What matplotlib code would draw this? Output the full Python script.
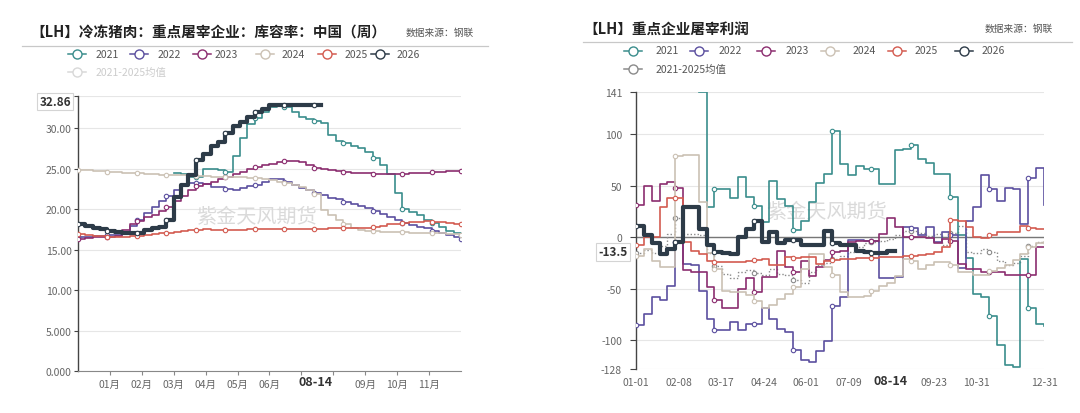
import numpy as np
import matplotlib
matplotlib.use('Agg')
import matplotlib.pyplot as plt
from matplotlib.lines import Line2D

plt.rcParams['font.family'] = ['Noto Sans CJK SC', 'DejaVu Sans']
plt.rcParams['axes.unicode_minus'] = False

nan = np.nan

# Legend entries and colours (ECharts-like palette from the screenshot)
YEARS = ['2021', '2022', '2023', '2024', '2025', '2026']
MEAN_NAME = '2021-2025均值'
LINE_COLORS = ['#3a8d8c', '#5b4f9f', '#8b2d6f', '#cbc1b4', '#d35b50', '#2d3b48']
MEAN_COLOR = '#8a8a8a'

# ---------------- left chart: frozen pork storage ratio (%) by week ----------------
stock_2021 = [nan] * 13 + [
    24.4, 24.3, 24.0, 24.0, 25.0, 25.0, 24.8, 24.6, 26.5, 28.8,
    30.5, 31.3, 32.0, 32.6, 33.0, 32.6, 32.0, 31.4, 31.1, 30.9,
    30.6, 29.2, 28.4, 28.1, 27.8, 27.5, 27.1, 26.3, 25.4, 24.3,
    22.0, 20.0, 19.6, 19.3, 18.6, 18.3, 17.8, 17.3, 17.0, 16.8]
stock_2022 = [
    16.6, 16.6, 16.7, 16.7, 16.8, 16.8, 17.0, 17.9, 18.6, 19.5,
    20.3, 21.0, 21.6, 22.3, 22.8, 23.2, 23.2, 23.1, 22.7, 22.7,
    22.5, 22.4, 22.6, 22.8, 23.0, 23.3, 23.7, 23.7, 23.4, 23.0,
    22.6, 22.3, 22.0, 21.7, 21.4, 21.2, 20.9, 20.6, 20.4, 20.1,
    19.8, 19.4, 19.0, 18.6, 18.3, 18.0, 17.8, 17.6, 17.3, 17.1,
    16.8, 16.6, 16.3]
stock_2023 = [
    16.3, 16.4, 16.5, 16.5, 16.6, 16.7, 17.4, 18.2, 18.5, 19.0,
    19.3, 19.7, 20.3, 21.0, 21.6, 22.3, 22.8, 23.1, 23.4, 23.7,
    24.0, 24.3, 24.6, 24.9, 25.2, 25.4, 25.6, 25.8, 25.9, 25.9,
    25.8, 25.5, 25.1, 24.9, 24.8, 24.7, 24.6, 24.5, 24.4, 24.4,
    24.3, 24.3, 24.3, 24.3, 24.3, 24.4, 24.4, 24.5, 24.6, 24.6,
    24.7, 24.7, 24.7]
stock_2024 = [
    24.85, 24.8, 24.75, 24.7, 24.6, 24.55, 24.5, 24.45, 24.4, 24.35,
    24.3, 24.25, 24.2, 24.2, 24.15, 24.1, 24.1, 24.05, 24.0, 24.0,
    24.0, 23.95, 23.9, 23.85, 23.8, 23.7, 23.6, 23.4, 23.2, 23.0,
    22.7, 22.4, 21.8, 19.9, 19.3, 18.7, 18.1, 17.7, 17.4, 17.3,
    17.3, 17.2, 17.2, 17.2, 17.2, 17.1, 17.1, 17.1, 17.0, 17.0,
    16.9, 16.9, 16.8]
stock_2025 = [
    16.9, 16.8, 16.7, 16.7, 16.6, 16.6, 16.6, 16.7, 16.7, 16.8,
    16.9, 17.0, 17.1, 17.2, 17.3, 17.4, 17.4, 17.5, 17.4, 17.4,
    17.4, 17.4, 17.4, 17.5, 17.5, 17.5, 17.5, 17.5, 17.5, 17.5,
    17.5, 17.5, 17.5, 17.5, 17.6, 17.6, 17.6, 17.6, 17.6, 17.7,
    17.8, 17.9, 18.1, 18.2, 18.3, 18.4, 18.4, 18.5, 18.4, 18.4,
    18.3, 18.2, 18.2]
stock_2026 = [
    18.1, 17.9, 17.7, 17.5, 17.3, 17.2, 17.1, 17.1, 17.1, 17.4,
    17.6, 17.8, 18.6, 21.5, 23.0, 24.2, 26.0, 26.8, 27.8, 28.3,
    29.4, 30.2, 30.8, 31.4, 32.0, 32.4, 32.8, 32.9, 32.8, 32.8,
    32.8, 32.8, 32.86] + [nan] * 20
stock_series = [stock_2021, stock_2022, stock_2023, stock_2024, stock_2025, stock_2026]
stock_last = 32.86

# 07月 / 08月 sit under the "08-14" pointer label, 34.00 under the 32.86 box
month_ticks = [1, 2, 3, 4, 5, 6, 7, 8, 9, 10, 11]
month_labels = ['01月', '02月', '03月', '04月', '05月', '06月', '', '', '09月', '10月', '11月']
stock_yticks = [0, 5, 10, 15, 20, 25, 30, 34]
stock_ylabels = ['0.000', '5.000', '10.00', '15.00', '20.00', '25.00', '30.00', '']

# ---------------- right chart: slaughter profit (yuan/head) by week ----------------
profit_2021 = [nan] * 8 + [
    141, 29, 47, 47, 38, 58, 39, 30, 15, 55,
    37, 30, 7, 16, 34, 53, 61, 103, 71, 60,
    69, 66, 66, 52, 52, 85, 86, 90, 76, 72,
    61, 61, 39, 2, -20, -55, -58, -77, -105, -124,
    -126, -21, -69, -84, -86]
profit_2022 = [
    -85, -75, -58, -61, -47, -5, -26, -27, -52, -79,
    -90, -90, -82, -90, -84, -84, -69, -79, -89, -92,
    -110, -119, -121, -111, -101, -67, -58, -3, -3, -4,
    -4, -40, -40, -39, 10, 9, 2, 10, -5, 5,
    2, -30, 16, 29, 60, 47, 35, 48, 47, 13,
    57, 67, 31]
profit_2023 = [
    31, 50, 35, 52, 54, 48, -32, -34, -34, -48,
    -61, -69, -69, -50, -40, -53, -39, -39, -13, -29,
    -34, -23, -38, -29, -22, -14, -13, -5, -4, -4,
    -4, 3, 19, 10, 0, 0, 0, -1, -6, -2,
    -4, -26, -31, -31, -34, -34, -34, -37, -37, -37,
    -37, -10, -10]
profit_2024 = [
    -18, -11, -23, -29, -29, 79, 80, 80, 34, -15,
    -31, -52, -53, -53, -56, -62, -69, -66, -60, -55,
    -48, -31, -16, -16, -29, -37, -53, -58, -58, -57,
    -52, -47, -44, -38, -21, -23, -31, -27, -24, -24,
    -27, -34, -34, -37, -37, -33, -30, -27, -22, -16,
    -10, -6, -5]
profit_2025 = [
    -8, 0, 0, 29, 38, 38, -5, -13, -16, -23,
    -24, -24, -24, -24, -23, -22, -21, -27, -27, -19,
    -20, -19, -19, -26, -23, -22, -21, -21, -20, -20,
    -20, -19, -19, -19, -18, -18, -17, -16, -14, -10,
    17, 16, 10, 0, -1, 2, 5, 5, 5, 11,
    9, 8, 8]
profit_2026 = [
    11, 2, -6, -16, -11, -5, 29, 29, 8, -8,
    -14, -15, -16, 0, 8, 16, -5, 5, -6, -3,
    -3, -8, -8, -8, 6, -6, -8, -8, -13, -14,
    -15, -15, -13.5] + [nan] * 20
profit_mean = [
    -15, -12, -15, -9, 3, 19, 3, 3, 2, -15,
    -28, -36, -40, -34, -32, -35, -37, -31, -36, -37,
    -42, -44, -34, -27, -25, -21, -18, -14, -10, -6,
    -5, -4, -2, 2, 6, 6, 4, 1, 3, -8,
    4, 11, -14, -15, -11, -14, -23, -27, -25, -18,
    -9, -5, -7]
profit_series = [profit_2021, profit_2022, profit_2023, profit_2024, profit_2025, profit_2026]
profit_last = -13.5

day_ticks = [0, 38, 76, 114, 152, 190, 266, 304, 364]
day_labels = ['01-01', '02-08', '03-17', '04-24', '06-01', '07-09', '09-23', '10-31', '12-31']
profit_yticks = [-128, -100, -50, 0, 50, 100, 141]
profit_ylabels = ['-128', '-100', '-50', '0', '50', '100', '141']

CURRENT = '08-14'
W, H = 1080, 414


def fx(px):
    return px / W


def fy(py):
    return 1 - py / H


def draw_lines(ax, x, series, markevery):
    for i, vals in enumerate(series):
        thick = (i == len(series) - 1)
        ax.plot(x, vals, drawstyle='steps-post', color=LINE_COLORS[i],
                lw=3.0 if thick else 1.2, marker='o', markersize=3.2,
                markerfacecolor='white', markeredgewidth=0.8,
                markevery=markevery, zorder=4 if thick else 3)


def style_axes(ax):
    for s in ['top', 'right']:
        ax.spines[s].set_visible(False)
    ax.spines['left'].set_color('#444444')
    ax.spines['left'].set_linewidth(1.0)
    ax.grid(axis='y', color='#e6e6e6', lw=0.8, zorder=0)
    ax.set_axisbelow(True)
    ax.tick_params(axis='y', length=3, color='#444444', labelsize=7.5,
                   labelcolor='#666666', pad=1.5)
    ax.tick_params(axis='x', labelsize=7.5, labelcolor='#666666')


def legend(fig, sym_x, text_x, row_y, colors, names, text_colors):
    for sx, tx, y, c, name, tc in zip(sym_x, text_x, row_y, colors, names, text_colors):
        fig.add_artist(Line2D([fx(sx - 9), fx(sx + 9)], [fy(y), fy(y)],
                              transform=fig.transFigure, color=c, lw=1.1))
        fig.add_artist(Line2D([fx(sx)], [fy(y)], transform=fig.transFigure,
                              marker='o', markersize=6.5, markerfacecolor='white',
                              markeredgecolor=c, markeredgewidth=1.0, lw=0))
        fig.text(fx(tx), fy(y), name, fontsize=7.5, color=tc, va='center', ha='left')


fig = plt.figure(figsize=(W / 100, H / 100), dpi=100)
fig.patch.set_facecolor('white')

# ---------- left ----------
axl = fig.add_axes([fx(78), fy(372), fx(461) - fx(78), fy(96.7) - fy(372)])
style_axes(axl)
x_months = np.arange(53) * 12 / 52
draw_lines(axl, x_months, stock_series, 4)
axl.set_xlim(0, 12)
axl.set_ylim(0, 34)
axl.set_yticks(stock_yticks)
axl.set_yticklabels(stock_ylabels)
axl.set_xticks(month_ticks)
axl.set_xticklabels(month_labels)
axl.tick_params(axis='x', length=3, color='#888888', pad=3)
axl.spines['bottom'].set_color('#888888')
axl.text(5.6, 19.1, '紫金天风期货', fontsize=14.5, color='#dadada', ha='center',
         va='center', zorder=1)
axl.annotate(CURRENT, xy=(7.45, 0), xycoords=('data', 'axes fraction'),
             xytext=(0, -7.5), textcoords='offset points', ha='center', va='center',
             fontsize=9, fontweight='bold', color='#333333', zorder=10)
axl.annotate(f'{stock_last:.2f}', xy=(0, stock_last), xycoords=('axes fraction', 'data'),
             xytext=(-5, 2.5), textcoords='offset points', ha='right', va='center',
             fontsize=8.5, fontweight='bold', color='#333333', zorder=10,
             annotation_clip=False,
             bbox=dict(boxstyle='square,pad=0.2', fc='white', ec='#d4d4d4', lw=0.8))

fig.text(fx(30), fy(33), '【LH】冷冻猪肉：重点屠宰企业：库容率：中国（周）',
         fontsize=10.5, fontweight='bold', color='#222222', va='center')
fig.text(fx(406), fy(33), '数据来源：钢联', fontsize=7, color='#555555', va='center')
fig.add_artist(Line2D([fx(22), fx(488)], [fy(47), fy(47)], transform=fig.transFigure,
                      color='#c8c8c8', lw=0.9))
legend(fig, [77, 139, 202, 265, 327, 380, 77], [96, 158, 215, 282, 345, 397, 96],
       [55] * 6 + [73], LINE_COLORS + ['#d8d8d8'], YEARS + [MEAN_NAME],
       ['#555555'] * 6 + ['#cccccc'])

# ---------- right ----------
axr = fig.add_axes([fx(636), fy(370), fx(1044) - fx(636), fy(93) - fy(370)])
style_axes(axr)
axr.spines['bottom'].set_visible(False)
x_days = np.arange(53) * 7
axr.plot(x_days, profit_mean, drawstyle='steps-post', color=MEAN_COLOR, lw=1.0,
         linestyle=(0, (1, 1.5)), marker='o', markersize=3.2, markerfacecolor='white',
         markeredgewidth=0.8, markevery=5, zorder=3)
draw_lines(axr, x_days, profit_series, 5)
axr.axhline(0, color='#777777', lw=1.0, zorder=2)
axr.set_xlim(0, 364)
axr.set_ylim(-128, 141)
axr.set_yticks(profit_yticks)
axr.set_yticklabels(profit_ylabels)
axr.tick_params(axis='y', length=4, pad=6)
axr.set_xticks(day_ticks)
axr.set_xticklabels(day_labels)
axr.tick_params(axis='x', length=0, pad=6)
axr.text(170, 25, '紫金天风期货', fontsize=14.5, color='#dadada', ha='center',
         va='center', zorder=1)
axr.annotate(CURRENT, xy=(227, 0), xycoords=('data', 'axes fraction'),
             xytext=(0, -8), textcoords='offset points', ha='center', va='center',
             fontsize=9, fontweight='bold', color='#333333', zorder=10,
             bbox=dict(boxstyle='square,pad=0.3', fc='white', ec='none'))
axr.annotate(f'{profit_last:.1f}', xy=(0, profit_last), xycoords=('axes fraction', 'data'),
             xytext=(-6, -0.5), textcoords='offset points', ha='right', va='center',
             fontsize=8.5, fontweight='bold', color='#333333', zorder=10,
             annotation_clip=False,
             bbox=dict(boxstyle='square,pad=0.2', fc='white', ec='#d4d4d4', lw=0.8))

fig.text(fx(583), fy(29), '【LH】重点企业屠宰利润', fontsize=10.5, fontweight='bold',
         color='#222222', va='center')
fig.text(fx(985), fy(29), '数据来源：钢联', fontsize=7, color='#555555', va='center')
fig.add_artist(Line2D([fx(583), fx(1072)], [fy(42.5), fy(42.5)], transform=fig.transFigure,
                      color='#c8c8c8', lw=0.9))
legend(fig, [633, 699, 766, 830, 897, 964, 633], [656, 719, 786, 853, 915, 982, 656],
       [51.5] * 6 + [70], LINE_COLORS + [MEAN_COLOR], YEARS + [MEAN_NAME],
       ['#555555'] * 7)

fig.savefig('out.png', dpi=100, facecolor='white')
